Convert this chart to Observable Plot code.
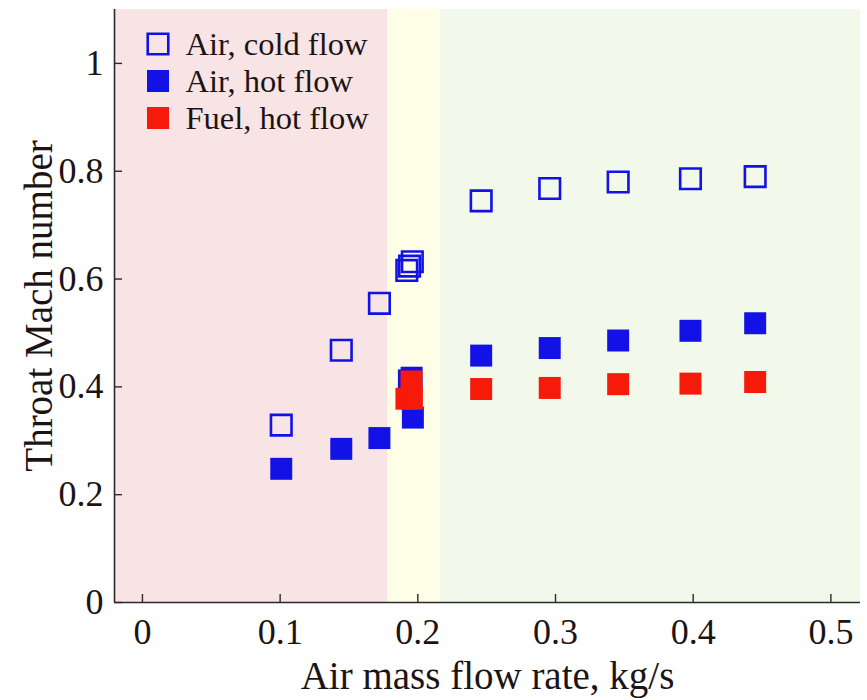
<!DOCTYPE html>
<html>
<head>
<meta charset="utf-8">
<script src="https://cdn.jsdelivr.net/npm/d3@7"></script>
<script src="https://cdn.jsdelivr.net/npm/@observablehq/plot@0.6"></script>
<style>
  html, body { margin: 0; padding: 0; background: #ffffff; }
  #chart svg { display: block; }
</style>
</head>
<body>
<div id="chart"></div>
<script>
// ---- data ----
const coldX = [0.1008, 0.1444, 0.1721, 0.192, 0.194, 0.196, 0.246, 0.2958, 0.3455, 0.398, 0.445];
const coldY = [0.329, 0.468, 0.555, 0.616, 0.624, 0.632, 0.745, 0.768, 0.780, 0.786, 0.790];

const hotAirX = [0.1008, 0.1444, 0.1721, 0.1935, 0.1955, 0.1964, 0.246, 0.2958, 0.3455, 0.398, 0.445];
const hotAirY = [0.248, 0.285, 0.305, 0.412, 0.417, 0.343, 0.458, 0.472, 0.486, 0.504, 0.518];

const fuelX = [0.1917, 0.1957, 0.1954, 0.246, 0.2958, 0.3455, 0.398, 0.445];
const fuelY = [0.378, 0.378, 0.410, 0.396, 0.398, 0.405, 0.406, 0.409];

// shaded regimes (x ranges)
const regionStart = [-0.0203, 0.1784, 0.2166];
const regionEnd   = [0.1784, 0.2166, 0.5215];
const regionColor = ["#f8e4e4", "#fefee6", "#f2f8ea"];

const xTicks = [0, 0.1, 0.2, 0.3, 0.4, 0.5];
const yTicks = [0, 0.2, 0.4, 0.6, 0.8, 1];
const xDomain = [-0.0203, 0.5215];
const yDomain = [0, 1.1];

const legendLabels = ["Air, cold flow", "Air, hot flow", "Fuel, hot flow"];
const xLabel = "Air mass flow rate, kg/s";
const yLabel = "Throat Mach number";

// ---- build tables ----
const regions = regionStart.map((s, i) => ({x1: s, x2: regionEnd[i], color: regionColor[i]}));
const cold = coldX.map((x, i) => ({x, y: coldY[i]}));
const hotAir = hotAirX.map((x, i) => ({x, y: hotAirY[i]}));
const fuel = fuelX.map((x, i) => ({x, y: fuelY[i]}));

const BLUE = "#1212e6";
const RED = "#f51a0a";
const INK = "#1c1414";
const AXIS = "#2a2a2a";
const FONT = "'Liberation Serif', 'Times New Roman', serif";

const legendStyles = [
  {fill: "none", stroke: BLUE, strokeWidth: 2.6, r: 11.6},
  {fill: BLUE, stroke: "none", strokeWidth: 0, r: 12.4},
  {fill: RED, stroke: "none", strokeWidth: 0, r: 12.4}
];

const legendMarks = legendLabels.flatMap((label, i) => [
  Plot.dot([label], {
    frameAnchor: "top-left", dx: 43.5, dy: 34.5 + i * 37,
    symbol: "square", r: legendStyles[i].r,
    fill: legendStyles[i].fill, stroke: legendStyles[i].stroke,
    strokeWidth: legendStyles[i].strokeWidth
  }),
  Plot.text([label], {
    frameAnchor: "top-left", dx: 71, dy: 35 + i * 37,
    text: d => d, textAnchor: "start", lineAnchor: "middle",
    fontSize: 32.5, fontFamily: FONT, fill: INK
  })
]);

const chart = Plot.plot({
  width: 867,
  height: 700,
  marginLeft: 114,
  marginRight: 7,
  marginTop: 9,
  marginBottom: 98,
  style: {fontFamily: FONT, background: "#ffffff", overflow: "visible"},
  x: {domain: xDomain},
  y: {domain: yDomain},
  marks: [
    Plot.rect(regions, {x1: "x1", x2: "x2", fill: "color"}),
    // open squares: cold flow
    Plot.dot(cold, {x: "x", y: "y", symbol: "square", r: 11.6, fill: "none", stroke: BLUE, strokeWidth: 2.6}),
    // filled: hot flow air
    Plot.dot(hotAir, {x: "x", y: "y", symbol: "square", r: 12.4, fill: BLUE, stroke: "none"}),
    // filled: fuel hot flow
    Plot.dot(fuel, {x: "x", y: "y", symbol: "square", r: 12.4, fill: RED, stroke: "none"}),
    // axis lines
    Plot.ruleY([yDomain[0]], {stroke: AXIS, strokeWidth: 1.6}),
    Plot.ruleX([xDomain[0]], {stroke: AXIS, strokeWidth: 1.6}),
    // inward ticks (no text)
    Plot.axisX({anchor: "bottom", ticks: xTicks, tickSize: 8, dy: -8, fill: "none", stroke: AXIS, strokeWidth: 1.4, label: null}),
    Plot.axisY({anchor: "left", ticks: yTicks, tickSize: 8, dx: 8, fill: "none", stroke: AXIS, strokeWidth: 1.4, label: null}),
    // tick labels (no ticks)
    Plot.axisX({anchor: "bottom", ticks: xTicks, tickSize: 0, tickPadding: 16, fontSize: 36, fill: INK, tickFormat: d => String(d), label: null}),
    Plot.axisY({anchor: "left", ticks: yTicks, tickSize: 0, tickPadding: 11, fontSize: 36, fill: INK, tickFormat: d => String(d), label: null}),
    // axis titles
    Plot.text([xLabel], {frameAnchor: "bottom", dy: 74, text: d => d, textAnchor: "middle", lineAnchor: "middle", fontSize: 39, fontFamily: FONT, fill: INK}),
    Plot.text([yLabel], {frameAnchor: "left", dx: -75, text: d => d, rotate: -90, textAnchor: "middle", lineAnchor: "middle", fontSize: 39, fontFamily: FONT, fill: INK}),
    ...legendMarks
  ]
});

document.getElementById("chart").appendChild(chart);
</script>
</body>
</html>
